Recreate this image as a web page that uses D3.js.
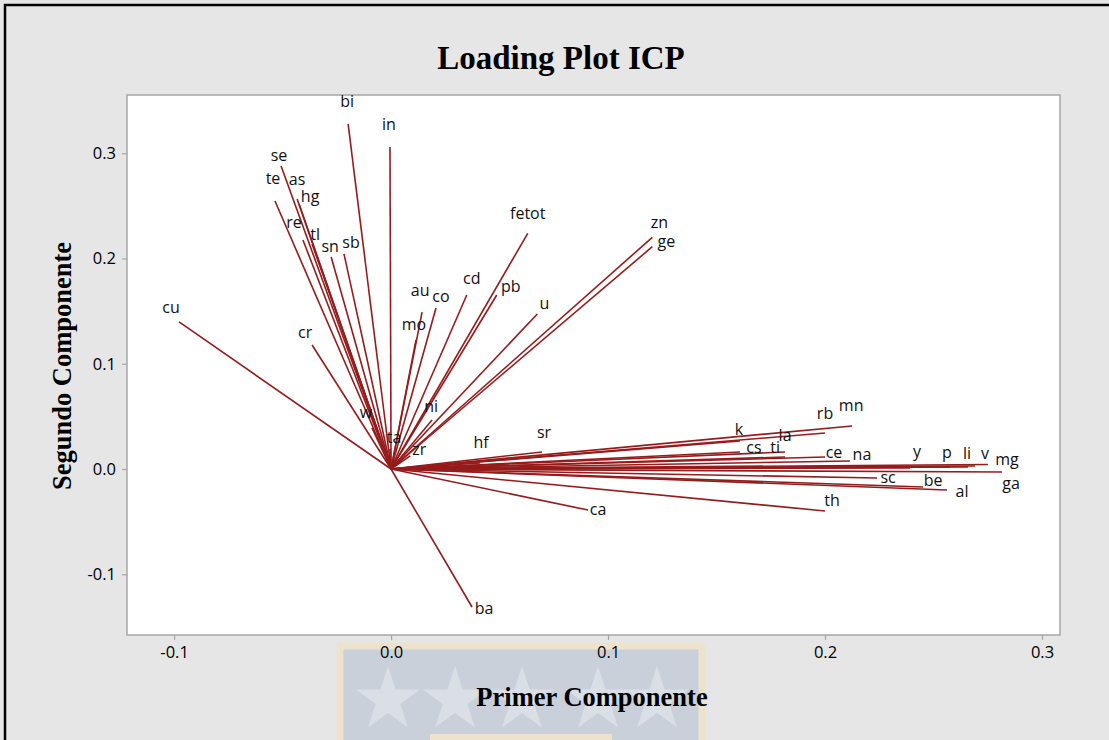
<!DOCTYPE html>
<html><head><meta charset="utf-8">
<script src="https://cdn.jsdelivr.net/npm/d3@7"></script>
<style>
html,body{margin:0;padding:0;background:#fff;}
svg{display:block;}
</style></head>
<body>
<svg id="chart" width="1109" height="740"></svg>
<script>
// ---- data ----
const variables = ["cu","bi","in","se","te","as","hg","re","tl","sn","sb","cr","w","ta","zr","ni","mo","au","co","cd","fetot","pb","u","zn","ge","hf","sr","ca","ba","k","cs","la","ti","rb","mn","ce","na","y","p","li","v","mg","ga","sc","be","al","th"];
const pc1 = [-0.0977,-0.0198,-0.0005,-0.0507,-0.0535,-0.0433,-0.0424,-0.0406,-0.0364,-0.0276,-0.0217,-0.0364,-0.0088,-0.0005,0.0088,0.0189,0.0115,0.0143,0.0207,0.0349,0.0630,0.0487,0.0674,0.1204,0.1204,0.0410,0.0696,0.0908,0.0373,0.1608,0.1608,0.1816,0.1816,0.2000,0.2125,0.2000,0.2115,0.2392,0.2576,0.2659,0.2691,0.2751,0.2816,0.2240,0.2452,0.2562,0.2000];
const pc2 = [0.1397,0.3278,0.3060,0.2879,0.2546,0.2565,0.2518,0.2176,0.2138,0.2014,0.2043,0.1178,0.0390,0.0190,0.0124,0.0466,0.1226,0.1490,0.1530,0.1653,0.2239,0.1653,0.1473,0.2201,0.2112,0.0057,0.0162,-0.0390,-0.1311,0.0266,0.0162,0.0162,0.0114,0.0342,0.0409,0.0114,0.0076,0.0010,0.0019,0.0019,0.0029,0.0043,-0.0029,-0.0086,-0.0171,-0.0200,-0.0399];
const xTicks = [-0.1, 0.0, 0.1, 0.2, 0.3];
const yTicks = [-0.1, 0.0, 0.1, 0.2, 0.3];
const title = "Loading Plot ICP";
const xTitle = "Primer Componente";
const yTitle = "Segundo Componente";

// ---- label placement (pixel offsets from line end) ----
const labelOffset = {
  cu:[-8,-15], bi:[-1,-23], in:[-1,-22], se:[-2,-11], te:[-2,-23], as:[0,-20], hg:[11,-8],
  re:[-9,-18], tl:[3,-10], sn:[-1,-11], sb:[7,-12], cr:[-7,-13], w:[-6,-16], ta:[4,-12],
  zr:[9,-7], ni:[-1,-14], mo:[-2,-16], au:[-2,-22], co:[5,-12], cd:[5,-17], fetot:[0,-20],
  pb:[14,-9], u:[7,-11], zn:[7,-15], ge:[14,-5], hf:[1,-21], sr:[2,-20], ca:[10,-1], ba:[12,1],
  k:[-1,-12], cs:[14,-5], la:[0,-17], ti:[-10,-10], rb:[0,-20], mn:[-1,-21], ce:[9,-5],
  na:[12,-7], y:[7,-17], p:[-3,-15], li:[-1,-14], v:[10,-13], mg:[19,-5], ga:[9,11], sc:[11,-1],
  be:[10,-7], al:[15,1], th:[7,-11]
};

// ---- layout ----
const svg = d3.select("#chart");
const W = 1109, H = 740;
const plot = {left:127, right:1060, top:95, bottom:635};

svg.append("rect").attr("x",0).attr("y",0).attr("width",W).attr("height",H).attr("fill","#e6e6e6");
// outer black frame (top/left)
svg.append("line").attr("x1",4).attr("x2",W).attr("y1",5).attr("y2",5).attr("stroke","#000").attr("stroke-width",2.5);
svg.append("line").attr("x1",5).attr("x2",5).attr("y1",4).attr("y2",H).attr("stroke","#000").attr("stroke-width",2.5);

// faint watermark logo
const wm = svg.append("g");
wm.append("rect").attr("x",340).attr("y",646).attr("width",362).attr("height",100)
  .attr("fill","#c9d0d9").attr("stroke","#ede3cc").attr("stroke-width",7);
wm.append("rect").attr("x",430).attr("y",734).attr("width",182).attr("height",14).attr("fill","#ede3cc");
const starPath = d3.symbol().type(d3.symbolStar).size(1300)();
[388,455,522,598,657].forEach(cx => {
  wm.append("path").attr("d",starPath).attr("transform",`translate(${cx},${700})`).attr("fill","#dadee5");
});

const x = d3.scaleLinear().domain([-0.1217, 0.3083]).range([plot.left, plot.right]);
const y = d3.scaleLinear().domain([-0.1577, 0.3553]).range([plot.bottom, plot.top]);

svg.append("rect").attr("x",plot.left).attr("y",plot.top)
  .attr("width",plot.right-plot.left).attr("height",plot.bottom-plot.top)
  .attr("fill","#fff").attr("stroke","#a6a6a6").attr("stroke-width",1.5);

// axes
const fmt = v => d3.format(".1f")(v).replace("\u2212","-");
const xAxis = svg.append("g").attr("transform",`translate(0,${plot.bottom})`)
  .call(d3.axisBottom(x).tickValues(xTicks).tickFormat(fmt).tickSize(5).tickPadding(6));
const yAxis = svg.append("g").attr("transform",`translate(${plot.left},0)`)
  .call(d3.axisLeft(y).tickValues(yTicks).tickFormat(fmt).tickSize(5).tickPadding(6));
[xAxis,yAxis].forEach(a=>{
  a.select(".domain").remove();
  a.selectAll(".tick line").attr("stroke","#a6a6a6").attr("stroke-width",1.2);
  a.selectAll(".tick text").attr("font-family","'Open Sans', 'Noto Sans', sans-serif")
    .attr("font-size",16.5).attr("fill","#000");
});

// loading lines
const data = variables.map((v,i)=>({name:v, a:pc1[i], b:pc2[i]}));
const g = svg.append("g");
g.selectAll("line.load").data(data).enter().append("line")
  .attr("class","load")
  .attr("x1",x(0)).attr("y1",y(0))
  .attr("x2",d=>x(d.a)).attr("y2",d=>y(d.b))
  .attr("stroke","#961c1c").attr("stroke-width",1.6);

g.selectAll("text.lab").data(data).enter().append("text")
  .attr("class","lab")
  .attr("x",d=>x(d.a)+(labelOffset[d.name]||[0,-18])[0])
  .attr("y",d=>y(d.b)+(labelOffset[d.name]||[0,-18])[1])
  .attr("dy","0.35em")
  .attr("text-anchor","middle")
  .attr("font-family","'Open Sans', 'Noto Sans', sans-serif")
  .attr("font-size",16).attr("fill","#111")
  .text(d=>d.name);

// titles
svg.append("text").attr("x",561).attr("y",57).attr("dy","0.35em").attr("text-anchor","middle")
  .attr("font-family","'Liberation Serif','Times New Roman',serif").attr("font-weight","bold")
  .attr("font-size",33).attr("fill","#000").text(title);
svg.append("text").attr("x",592).attr("y",697).attr("dy","0.35em").attr("text-anchor","middle")
  .attr("font-family","'Liberation Serif','Times New Roman',serif").attr("font-weight","bold")
  .attr("font-size",26.5).attr("fill","#000").text(xTitle);
svg.append("text").attr("transform","translate(62,366) rotate(-90)").attr("dy","0.35em").attr("text-anchor","middle")
  .attr("font-family","'Liberation Serif','Times New Roman',serif").attr("font-weight","bold")
  .attr("font-size",26.5).attr("fill","#000").text(yTitle);
</script>
</body></html>
